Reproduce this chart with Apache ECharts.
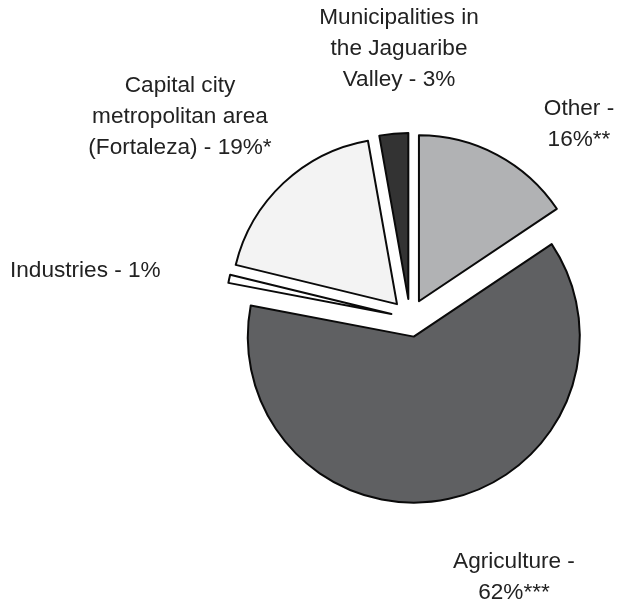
<!DOCTYPE html>
<html>
<head>
<meta charset="utf-8">
<script src="https://cdn.jsdelivr.net/npm/echarts@6/dist/echarts.min.js"></script>
<style>
  html, body { margin: 0; padding: 0; background: #fff; }
  #main { width: 622px; height: 608px; }
</style>
</head>
<body>
<div id="main"></div>
<script>
// slices, clockwise from 12 o'clock (shares)
const names = ['Other', 'Agriculture', 'Industries', 'Capital', 'Jaguaribe']
const values = [15.6, 62.4, 0.8, 18.4, 2.8]
const labels = [
    'Other -\n16%**',
    'Agriculture -\n62%***',
    'Industries - 1%',
    'Capital city\nmetropolitan area\n(Fortaleza) - 19%*',
    'Municipalities in\nthe Jaguaribe\nValley - 3%'
]
const colors = ['#b1b2b4', '#5f6062', '#ffffff', '#f3f3f3', '#333333']

// label anchor (px) and alignment
const labelPos = [[579, 124], [514, 577], [10, 271], [180, 117], [399, 49]]
const labelAlign = ['center', 'center', 'left', 'center', 'center']

const myChart = echarts.init(document.getElementById('main'))

const option = {
    animation: false,
    graphic: labels.map((t, i) => ({
        type: 'text',
        x: labelPos[i][0],
        y: labelPos[i][1],
        silent: true,
        style: {
            text: t,
            fill: '#222',
            fontFamily: 'Liberation Sans, Arial, sans-serif',
            fontSize: 22.6,
            lineHeight: 31,
            align: labelAlign[i],
            verticalAlign: 'middle'
        }
    })),
    series: [{
        type: 'pie',
        center: [410, 318],
        radius: [0, 166],
        startAngle: 90,
        clockwise: true,
        selectedMode: 'multiple',
        selectedOffset: 19,
        emphasis: { disabled: true },
        itemStyle: { borderColor: '#0a0a0a', borderWidth: 2 },
        label: { show: false },
        labelLine: { show: false },
        data: names.map((n, i) => ({
            name: n,
            value: values[i],
            selected: true,
            itemStyle: { color: colors[i] }
        }))
    }]
}

myChart.setOption(option)
</script>
</body>
</html>
